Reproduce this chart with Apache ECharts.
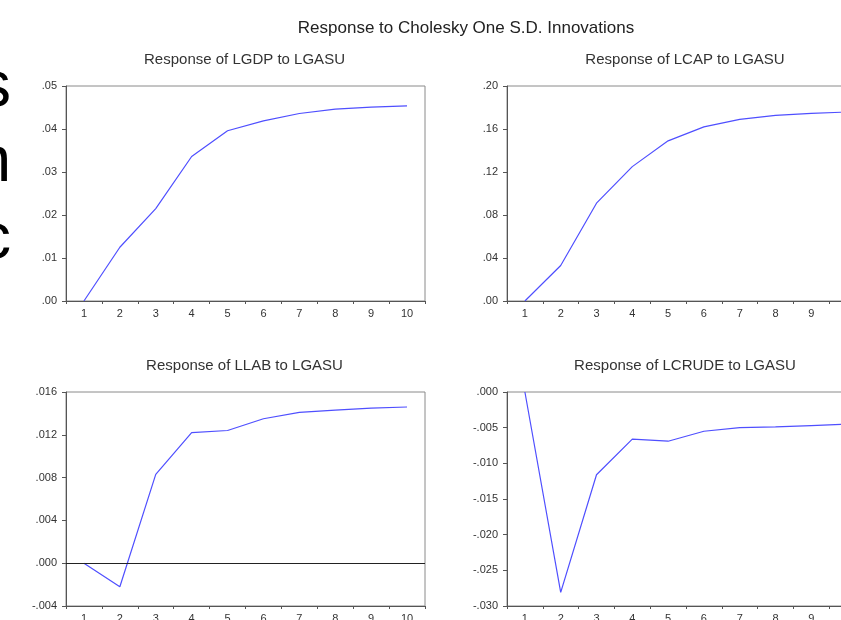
<!DOCTYPE html>
<html>
<head>
<meta charset="utf-8">
<script src="https://cdn.jsdelivr.net/npm/echarts@6/dist/echarts.min.js"></script>
<style>
  html, body { margin: 0; padding: 0; background: #ffffff; }
  #chart { width: 841px; height: 620px; }
</style>
</head>
<body>
<div id="chart"></div>
<script>
// ---- data ----
const periods = ['1', '2', '3', '4', '5', '6', '7', '8', '9', '10'];
const lgdp   = [0.0000, 0.0125, 0.0215, 0.0336, 0.0396, 0.0419, 0.0436, 0.0446, 0.0451, 0.0454];
const lcap   = [0.000, 0.033, 0.091, 0.125, 0.149, 0.162, 0.169, 0.1727, 0.1746, 0.1758];
const llab   = [0.0000, -0.0022, 0.0083, 0.0122, 0.0124, 0.0135, 0.0141, 0.0143, 0.0145, 0.0146];
const lcrude = [0.0000, -0.0281, -0.0116, -0.0066, -0.0069, -0.0055, -0.0050, -0.0049, -0.0047, -0.0045];
const mainTitle = 'Response to Cholesky One S.D. Innovations';
const panelTitles = ['Response of LGDP to LGASU', 'Response of LCAP to LGASU', 'Response of LLAB to LGASU', 'Response of LCRUDE to LGASU'];
const yMin = [0, 0, -0.004, -0.030];
const yMax = [0.05, 0.20, 0.016, 0.000];
const yStep = [0.01, 0.04, 0.004, 0.005];
const yDecimals = [2, 2, 3, 3];
const slideLetters = ['s', 'n', 'c'];

// ---- layout ----
const FONT = '"Liberation Sans", Arial, sans-serif';
const grids = [
  { left: 66,  top: 86,  width: 359, height: 215 },
  { left: 507, top: 86,  width: 358, height: 215 },
  { left: 66,  top: 392, width: 359, height: 214 },
  { left: 507, top: 392, width: 358, height: 214 }
];
const seriesData = [lgdp, lcap, llab, lcrude];

function fmt(d) {
  return function (v) {
    return Number(v).toFixed(d).replace(/^(-?)0\./, '$1.');
  };
}

const option = {
  animation: false,
  backgroundColor: '#ffffff',
  title: [
    { text: mainTitle, left: 466, top: 20, textAlign: 'center', padding: 0,
      textStyle: { fontFamily: FONT, fontSize: 17, fontWeight: 'normal', color: '#222' } }
  ].concat(panelTitles.map((t, i) => ({
    text: t,
    left: grids[i].left + grids[i].width / 2 - 1,
    top: i < 2 ? 52 : 358,
    textAlign: 'center',
    padding: 0,
    textStyle: { fontFamily: FONT, fontSize: 15, fontWeight: 'normal', color: '#333' }
  }))),
  grid: grids.map(g => Object.assign({
    show: true, borderColor: '#8a8a8a', borderWidth: 1,
    containLabel: false, outerBoundsMode: 'none'
  }, g)),
  xAxis: grids.map((g, i) => ({
    type: 'category',
    gridIndex: i,
    data: periods,
    boundaryGap: true,
    axisLine: { show: true, onZero: false, lineStyle: { color: '#555', width: 1 } },
    axisTick: { show: true, length: 3, alignWithLabel: false, lineStyle: { color: '#555' } },
    axisLabel: { interval: 0, margin: 7, fontFamily: FONT, fontSize: 11, color: '#333' },
    splitLine: { show: false }
  })),
  yAxis: grids.map((g, i) => ({
    type: 'value',
    gridIndex: i,
    min: yMin[i],
    max: yMax[i],
    interval: yStep[i],
    axisLine: { show: true, lineStyle: { color: '#555', width: 1 } },
    axisTick: { show: true, length: 4, lineStyle: { color: '#555' } },
    axisLabel: { margin: 9, fontFamily: FONT, fontSize: 11, color: '#333', formatter: fmt(yDecimals[i]) },
    splitLine: { show: false }
  })),
  series: seriesData.map((d, i) => {
    const s = {
      type: 'line',
      xAxisIndex: i,
      yAxisIndex: i,
      data: d,
      symbol: 'none',
      smooth: false,
      clip: true,
      lineStyle: { color: '#4f4fff', width: 1.2 },
      silent: true
    };
    if (i === 2) {
      s.markLine = {
        silent: true,
        symbol: ['none', 'none'],
        label: { show: false },
        lineStyle: { color: '#222', width: 1, type: 'solid' },
        data: [{ yAxis: 0 }]
      };
    }
    return s;
  }),
  graphic: slideLetters.map((ch, k) => ({
    type: 'text',
    x: 11,
    y: [88, 163, 240][k],
    style: {
      text: ch,
      fill: '#000',
      font: '64px "Liberation Sans", Arial, sans-serif',
      textAlign: 'right',
      verticalAlign: 'middle'
    }
  }))
};

const chart = echarts.init(document.getElementById('chart'), null, { renderer: 'canvas' });
chart.setOption(option);
</script>
</body>
</html>
